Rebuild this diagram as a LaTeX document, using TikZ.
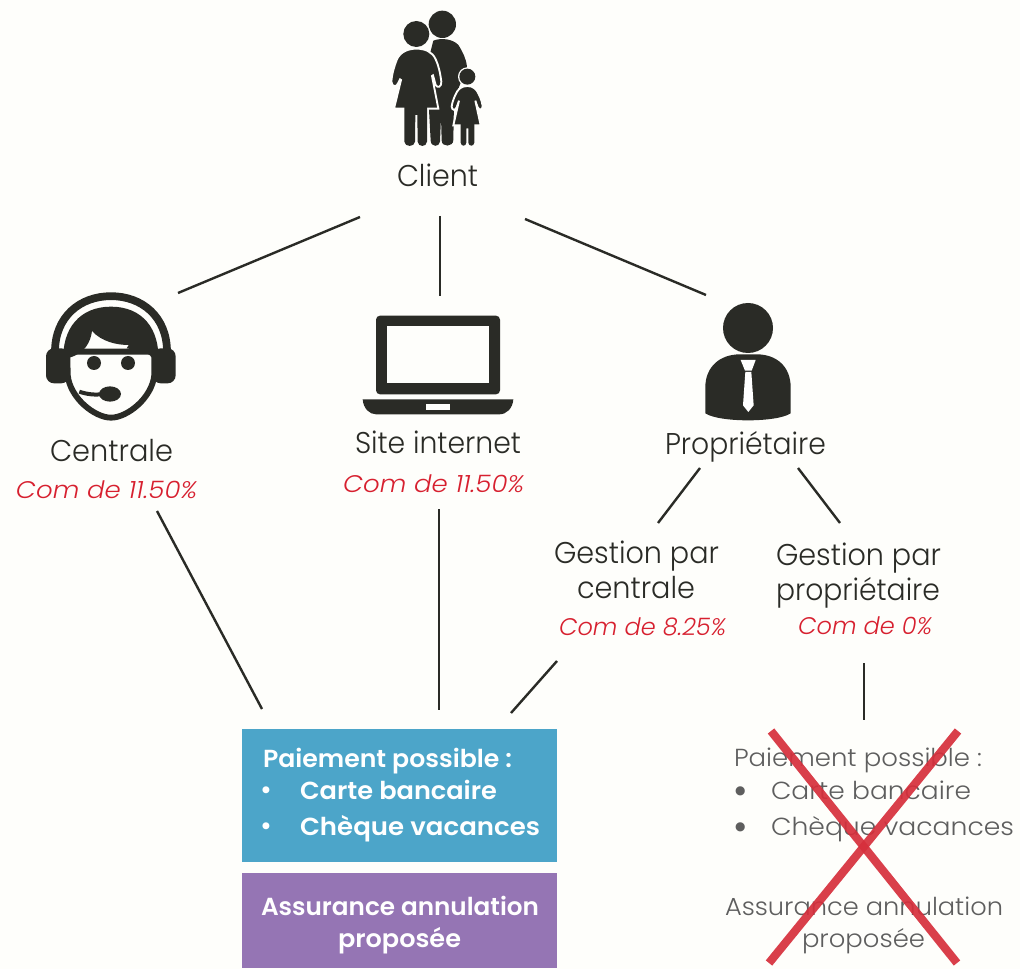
\documentclass[tikz,border=0pt]{standalone}
\usepackage{fontspec}
\usepackage{graphicx}
\setmainfont{Poppins Light}[ItalicFont={Poppins Light Italic},BoldFont={Poppins SemiBold}]
\definecolor{ink}{HTML}{2A2B26}
\definecolor{bgc}{HTML}{FEFEFB}
\definecolor{redt}{HTML}{D7202F}
\definecolor{boxblue}{HTML}{4CA5C9}
\definecolor{boxpurple}{HTML}{9575B4}
\definecolor{greyt}{HTML}{5E5E5E}
\definecolor{crossred}{HTML}{D62F3C}
\newdimen\pxu \pxu=.75pt
\newcommand\tw[2]{\resizebox{#1\pxu}{\height}{#2}}
\tikzset{
 txt/.style={anchor=base west,inner sep=0pt,outer sep=0pt,text=ink,font=\fontsize{22.5pt}{26pt}\selectfont},
 com/.style={txt,text=redt,font=\fontsize{18pt}{22pt}\selectfont\itshape},
 wtxt/.style={txt,text=white,font=\fontsize{18.5pt}{22pt}\selectfont\bfseries},
 gtxt/.style={txt,text=greyt,font=\fontsize{18.5pt}{22pt}\selectfont},
 link/.style={draw=ink,line width=1.8pt},
 icon/.style={fill=ink,draw=none},
 halo/.style={fill=ink,draw=bgc,line width=1.4pt},
 crossline/.style={draw=crossred,line width=6.2pt,opacity=.92},
}
\begin{document}
\begin{tikzpicture}[x=.75pt,y=-.75pt]
\path[use as bounding box,fill=bgc] (0,0) rectangle (1020,969);
% link ends
\coordinate (c1a) at (360,217); \coordinate (c1b) at (178,293);
\coordinate (c2a) at (440,216); \coordinate (c2b) at (440,296);
\coordinate (c3a) at (525,219); \coordinate (c3b) at (706,295);
\coordinate (d1a) at (157,511); \coordinate (d1b) at (262,709);
\coordinate (d2a) at (439,509); \coordinate (d2b) at (439,710);
\coordinate (p1a) at (700,468); \coordinate (p1b) at (658,523);
\coordinate (p2a) at (798,468); \coordinate (p2b) at (840,523);
\coordinate (g1a) at (557,661); \coordinate (g1b) at (511,713);
\coordinate (g2a) at (864,663); \coordinate (g2b) at (864,720);
\foreach \a/\b in {c1a/c1b,c2a/c2b,c3a/c3b,d1a/d1b,d2a/d2b,p1a/p1b,p2a/p2b,g1a/g1b,g2a/g2b}
  \draw[link] (\a) -- (\b);
% family icon
\begin{scope}[shift={(370,0)},scale=1/3]
 \fill[icon] (217,73) circle (41);
 \path[icon] (190,122) .. controls (215,112) and (250,118) .. (265,135) .. controls (278,155) and (288,175) .. (291,200) -- (285,215) -- (252,300) -- (250,420) .. controls (250,442) and (215,442) .. (215,422) -- (213,350) -- (210,425) .. controls (208,442) and (183,442) .. (182,422) -- (170,200) -- cycle;
 \path[halo] (139,146) .. controls (115,146) and (90,155) .. (80,180) .. controls (72,200) and (65,225) .. (64,245) .. controls (66,262) and (80,262) .. (84,250) -- (90,238) -- (93,240) -- (72,326) -- (205,326) -- (186,228) -- (189,226) -- (197,255) .. controls (202,265) and (215,262) .. (214,245) .. controls (210,215) and (205,195) .. (197,178) .. controls (187,155) and (165,146) .. (139,146) -- cycle;
 \fill[icon] (103,320) -- (103,425) .. controls (104,442) and (134,442) .. (135,425) -- (136,345) -- (142,345) -- (143,425) .. controls (144,442) and (170,442) .. (171,425) -- (171,320) -- cycle;
 \path[fill=bgc] (139,102) circle (43);
 \fill[icon] (139,102) circle (39);
 % child
 \path[fill=bgc] (292,230) circle (28);
 \path[halo] (292,258) .. controls (272,258) and (262,270) .. (256,285) .. controls (250,298) and (246,310) .. (245,320) .. controls (246,332) and (256,332) .. (260,322) -- (267,302) -- (250,376) -- (332,376) -- (316,302) -- (323,322) .. controls (328,332) and (338,330) .. (338,318) .. controls (335,300) and (330,290) .. (326,282) .. controls (320,268) and (310,258) .. (292,258) -- cycle;
 \fill[icon] (272,372) -- (272,428) .. controls (273,440) and (288,440) .. (289,428) -- (289,385) -- (295,385) -- (295,428) .. controls (296,440) and (312,440) .. (313,428) -- (313,372) -- cycle;
 \fill[icon] (292,230) circle (24);
\end{scope}
\node[txt] (client) at (397,187) {\tw{81}{Client}};
% headset icon
\begin{scope}[shift={(30,285)},scale=1/3]
 \draw[draw=ink,line width=5.8pt] (75,200) .. controls (75,95) and (150,33.5) .. (243,33.5) .. controls (336,33.5) and (411,95) .. (411,200);
 \fill[icon,rounded corners=6pt] (48,190) rectangle (118,295);
 \fill[icon,rounded corners=6pt] (368,190) rectangle (437,295);
 \path[fill=bgc,draw=ink,line width=4.4pt] (112,200) -- (113,270) .. controls (120,340) and (195,398) .. (243,398) .. controls (291,398) and (366,340) .. (373,270) -- (373,200) -- cycle;
 \fill[icon] (100,230) .. controls (95,130) and (150,65) .. (243,65) .. controls (336,65) and (390,130) .. (385,230) -- (370,222) .. controls (358,205) and (335,195) .. (318,195) -- (290,190) -- (296,180) .. controls (260,180) and (215,170) .. (186,138) .. controls (182,170) and (165,205) .. (118,218) -- cycle;
 \fill[icon] (192,234) circle (21);
 \fill[icon] (294,234) circle (21);
 \fill[icon] (240,327) ellipse (33 and 23);
 \draw[draw=ink,line width=3pt] (148,320) .. controls (170,328) and (195,330) .. (215,328);
\end{scope}
\node[txt] (centrale) at (50,461) {\tw{123}{Centrale}};
\node[com] (com1) at (16,498) {\tw{181}{Com de 11.50\%}};
% laptop icon
\begin{scope}[shift={(350,300)},scale=1/3]
 \fill[icon,rounded corners=3pt] (78,47) rectangle (450,283);
 \fill[bgc] (110,79) rectangle (418,250);
 \fill[icon] (38,298) -- (490,298) .. controls (488,325) and (470,343) .. (448,343) -- (78,343) .. controls (58,343) and (40,325) .. (38,298) -- cycle;
 \fill[bgc] (228,313) rectangle (300,329);
\end{scope}
\node[txt] (site) at (355,453) {\tw{166}{Site internet}};
\node[com] (com2) at (343,492) {\tw{181}{Com de 11.50\%}};
% owner icon
\begin{scope}[shift={(350,300)},scale=1/3]
 \fill[icon] (1194,84) circle (75);
 \fill[icon] (1066,340) -- (1066,262) .. controls (1066,200) and (1110,163) .. (1170,163) -- (1220,163) .. controls (1280,163) and (1322,200) .. (1322,262) -- (1322,340) .. controls (1280,368) and (1108,368) .. (1066,340) -- cycle;
 \fill[white] (1172,180) -- (1217,180) -- (1205,212) -- (1185,212) -- cycle;
 \fill[white] (1186,216) -- (1204,216) -- (1211,316) -- (1195,336) -- (1179,316) -- cycle;
\end{scope}
\node[txt] (prop) at (665,455) {\tw{161}{Propriétaire}};
\node[txt] (g1l1) at (554,563) {\tw{165}{Gestion par}};
\node[txt] (g1l2) at (577,598) {\tw{118}{centrale}};
\node[com] (com3) at (559,635) {\tw{167}{Com de 8.25\%}};
\node[txt] (g2l1) at (776,565) {\tw{165}{Gestion par}};
\node[txt] (g2l2) at (776,600) {\tw{164}{propriétaire}};
\node[com] (com4) at (798,634) {\tw{134}{Com de 0\%}};
% boxes
\node[fill=boxblue,inner sep=0pt,anchor=north west,minimum width=315\pxu,minimum height=133\pxu] (pay) at (242,729) {};
\node[fill=boxpurple,inner sep=0pt,anchor=north west,minimum width=315\pxu,minimum height=95\pxu] (ins) at (242,873) {};
\node[wtxt] (pt) at (263,767) {\tw{249}{Paiement possible :}};
\node[wtxt] (pb1) at (260,798) {•};
\node[wtxt] (pc) at (300,799) {\tw{197}{Carte bancaire}};
\node[wtxt] (pb2) at (260,834) {•};
\node[wtxt] (pv) at (300,835) {\tw{240}{Chèque vacances}};
\node[wtxt] (a1) at (261,915) {\tw{278}{Assurance annulation}};
\node[wtxt] (a2) at (338,947) {\tw{123}{proposée}};
% struck-out text
\node[gtxt] (qt) at (734,766) {\tw{248}{Paiement possible :}};
\node[gtxt] (qb1) at (733,804) {\scalebox{1.6}{•}};
\node[gtxt] (qc) at (771,799) {\tw{200}{Carte bancaire}};
\node[gtxt] (qb2) at (733,840) {\scalebox{1.6}{•}};
\node[gtxt] (qv) at (771,835) {\tw{243}{Chèque vacances}};
\node[gtxt] (b1) at (725,915) {\tw{278}{Assurance annulation}};
\node[gtxt] (b2) at (802,947) {\tw{123}{proposée}};
\coordinate (x1a) at (771,731); \coordinate (x1b) at (957,963);
\coordinate (x2a) at (958,731); \coordinate (x2b) at (769,963);
\draw[crossline] (x1a) -- (x1b);
\draw[crossline] (x2a) -- (x2b);
\end{tikzpicture}
\end{document}
